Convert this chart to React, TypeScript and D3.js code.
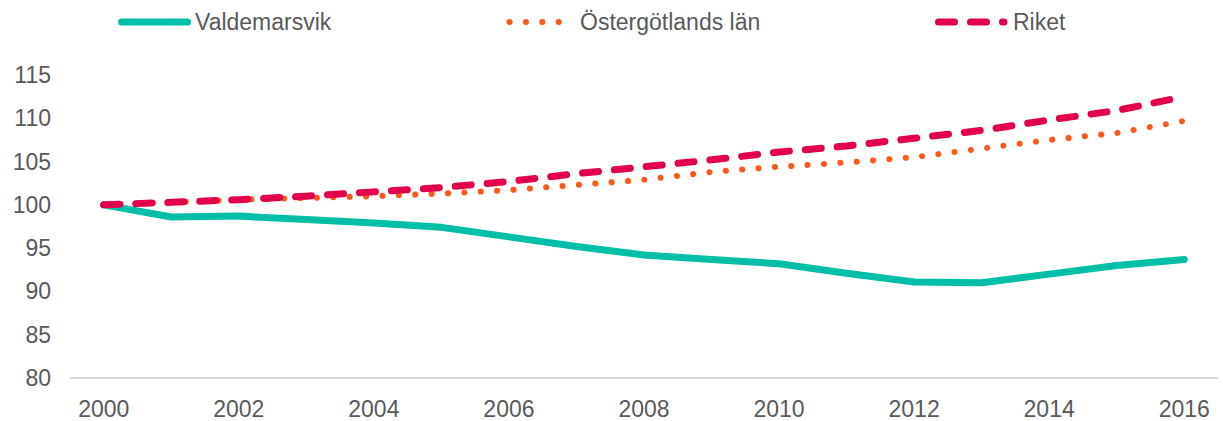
import React from 'react';
import * as d3 from 'd3';

const years = d3.range(2000, 2017).map(String);
const valdemarsvik = [100, 98.6, 98.7, 98.3, 97.9, 97.4, 96.3, 95.2, 94.2, 93.7, 93.2, 92.1, 91.1, 91.0, 92.0, 93.0, 93.7];
const ostergotland = [100, 100.3, 100.6, 100.8, 101.0, 101.3, 101.7, 102.3, 102.9, 103.8, 104.4, 104.9, 105.5, 106.5, 107.5, 108.3, 109.7];
const riket = [100, 100.3, 100.6, 101.0, 101.5, 102.0, 102.7, 103.6, 104.4, 105.2, 106.1, 106.8, 107.7, 108.6, 109.8, 110.9, 112.5];
const yTicks = [80, 85, 90, 95, 100, 105, 110, 115];
const xTicks = ['2000', '2002', '2004', '2006', '2008', '2010', '2012', '2014', '2016'];

// legend: line start/end, text x
const series = [
  { name: 'Valdemarsvik', values: valdemarsvik, color: '#00BFA6', width: 7, dash: 'none', lx1: 121.5, lx2: 187.5, tx: 195 },
  { name: 'Östergötlands län', values: ostergotland, color: '#FF581C', width: 6, dash: '0.1 16.3', lx1: 509.5, lx2: 574, tx: 580 },
  { name: 'Riket', values: riket, color: '#E3004A', width: 7, dash: '16 16', lx1: 938.5, lx2: 1004, tx: 1013 },
];

const W = 1223;
const H = 421;
const left = 70;
const right = 1218;
const top = 75;
const bottom = 378;
const font = 'Liberation Sans, Arial, sans-serif';

export default function App() {
  const x = d3.scalePoint<string>().domain(years).range([left, right]).padding(0.5);
  const y = d3.scaleLinear().domain([80, 115]).range([bottom, top]);
  const line = d3
    .line<number>()
    .x((d, i) => x(years[i]) as number)
    .y(d => y(d));

  return (
    <svg width={W} height={H} style={{ position: 'absolute', left: 0, top: 0, background: '#fff' }}>
      <line x1={left} x2={right} y1={bottom} y2={bottom} stroke="#D9D9D9" strokeWidth={2} />
      {yTicks.map(t => (
        <text key={t} x={51} y={y(t)} dy="0.35em" textAnchor="end" fontFamily={font} fontSize={23} fill="#595959">
          {t}
        </text>
      ))}
      {xTicks.map(t => (
        <text key={t} x={x(t)} y={409} dy="0.35em" textAnchor="middle" fontFamily={font} fontSize={23} fill="#595959">
          {t}
        </text>
      ))}
      {series.map(s => (
        <path
          key={s.name}
          d={line(s.values) || ''}
          fill="none"
          stroke={s.color}
          strokeWidth={s.width}
          strokeDasharray={s.dash}
          strokeLinecap="round"
          strokeLinejoin="round"
        />
      ))}
      {series.map(s => (
        <g key={'leg' + s.name}>
          <line
            x1={s.lx1}
            x2={s.lx2}
            y1={22}
            y2={22}
            stroke={s.color}
            strokeWidth={s.width}
            strokeDasharray={s.dash}
            strokeLinecap="round"
          />
          <text x={s.tx} y={22} dy="0.35em" fontFamily={font} fontSize={23} fill="#595959">
            {s.name}
          </text>
        </g>
      ))}
    </svg>
  );
}
